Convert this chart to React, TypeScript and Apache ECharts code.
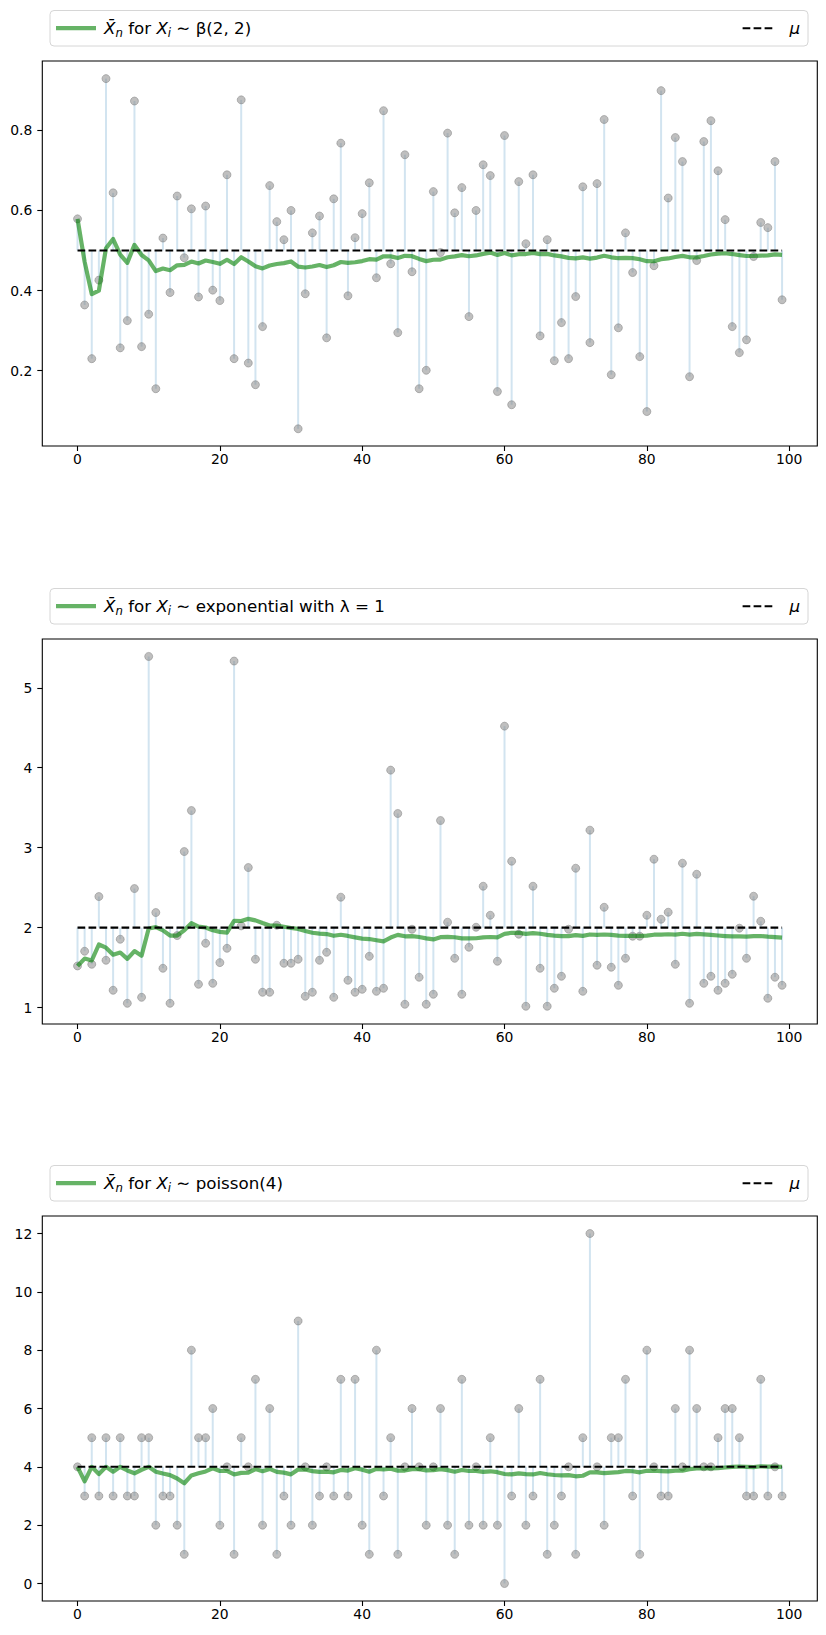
import React, { useEffect, useRef } from "react";
import * as echarts from "echarts";

// ---------- data ----------
const sampleIndex: number[] = Array.from({ length: 100 }, (_, i) => i);

const betaSamples: number[] = [
  0.579, 0.364, 0.230, 0.426, 0.929, 0.644, 0.257, 0.325, 0.873, 0.260,
  0.341, 0.155, 0.531, 0.395, 0.636, 0.482, 0.604, 0.384, 0.611, 0.401,
  0.375, 0.689, 0.230, 0.876, 0.219, 0.165, 0.310, 0.662, 0.572, 0.527,
  0.600, 0.055, 0.392, 0.544, 0.586, 0.282, 0.629, 0.768, 0.387, 0.532,
  0.592, 0.669, 0.432, 0.849, 0.467, 0.295, 0.739, 0.447, 0.155, 0.201,
  0.647, 0.495, 0.793, 0.594, 0.657, 0.335, 0.600, 0.714, 0.687, 0.148,
  0.787, 0.115, 0.672, 0.517, 0.689, 0.287, 0.527, 0.225, 0.320, 0.230,
  0.385, 0.659, 0.270, 0.667, 0.827, 0.190, 0.307, 0.544, 0.445, 0.235,
  0.098, 0.462, 0.899, 0.631, 0.782, 0.722, 0.185, 0.475, 0.772, 0.824,
  0.699, 0.577, 0.310, 0.245, 0.277, 0.485, 0.570, 0.557, 0.722, 0.377,
];

const expSamples: number[] = [
  1.521, 1.705, 1.542, 2.389, 1.592, 1.217, 1.855, 1.054, 2.489, 1.129,
  5.392, 2.189, 1.492, 1.054, 1.901, 2.952, 3.465, 1.292, 1.805, 1.304,
  1.563, 1.742, 5.334, 2.022, 2.752, 1.605, 1.192, 1.192, 2.030, 1.555,
  1.555, 1.605, 1.142, 1.192, 1.592, 1.692, 1.129, 2.381, 1.342, 1.192,
  1.229, 1.642, 1.204, 1.242, 3.970, 3.428, 1.042, 1.980, 1.380, 1.042,
  1.167, 3.340, 2.068, 1.617, 1.167, 1.755, 2.005, 2.518, 2.155, 1.580,
  4.520, 2.831, 1.918, 1.017, 2.518, 1.492, 1.017, 1.242, 1.392, 1.980,
  2.743, 1.204, 3.219, 1.530, 2.255, 1.505, 1.279, 1.617, 1.893, 1.893,
  2.155, 2.856, 2.105, 2.193, 1.542, 2.806, 1.054, 2.668, 1.304, 1.392,
  1.217, 1.304, 1.417, 1.993, 1.617, 2.393, 2.080, 1.117, 1.380, 1.279,
];

const poissonSamples: number[] = [
  4, 3, 5, 3, 5, 3, 5, 3, 3, 5,
  5, 2, 3, 3, 2, 1, 8, 5, 5, 6,
  2, 4, 1, 5, 4, 7, 2, 6, 1, 3,
  2, 9, 4, 2, 3, 4, 3, 7, 3, 7,
  2, 1, 8, 3, 5, 1, 4, 6, 4, 2,
  4, 6, 2, 1, 7, 2, 4, 2, 5, 2,
  0, 3, 6, 2, 3, 7, 1, 2, 3, 4,
  1, 5, 12, 4, 2, 5, 5, 7, 3, 1,
  8, 4, 3, 3, 6, 4, 8, 6, 4, 4,
  5, 6, 6, 5, 3, 3, 7, 3, 4, 3,
];

const betaMu = 0.5;
const expMu = 2;
const poissonMu = 4;

const xTicks: number[] = [0, 20, 40, 60, 80, 100];
const betaYTicks: number[] = [0.2, 0.4, 0.6, 0.8];
const expYTicks: number[] = [1, 2, 3, 4, 5];
const poissonYTicks: number[] = [0, 2, 4, 6, 8, 10, 12];

const distLabels: string[] = ["β(2, 2)", "exponential with λ = 1", "poisson(4)"];
const muLabel = "μ";

// ---------- helpers ----------
function runningMean(arr: number[]): number[] {
  let s = 0;
  return arr.map((v, i) => {
    s += v;
    return s / (i + 1);
  });
}

const FONT = "DejaVu Sans";
const PLOT_LEFT = 42.3;
const PLOT_WIDTH = 775;
const PLOT_HEIGHT = 385;

interface Panel {
  top: number;
  samples: number[];
  mu: number;
  yMin: number;
  yMax: number;
  yTicks: number[];
  fmt: (v: number) => string;
  label: string;
}

const panels: Panel[] = [
  { top: 61, samples: betaSamples, mu: betaMu, yMin: 0.012, yMax: 0.973, yTicks: betaYTicks, fmt: (v) => v.toFixed(1), label: distLabels[0] },
  { top: 639, samples: expSamples, mu: expMu, yMin: 0.795, yMax: 5.61, yTicks: expYTicks, fmt: (v) => String(Math.round(v)), label: distLabels[1] },
  { top: 1216, samples: poissonSamples, mu: poissonMu, yMin: -0.6, yMax: 12.6, yTicks: poissonYTicks, fmt: (v) => String(Math.round(v)), label: distLabels[2] },
];

function buildOption(): any {
  const grid: any[] = [];
  const xAxis: any[] = [];
  const yAxis: any[] = [];
  const series: any[] = [];
  const graphic: any[] = [];

  panels.forEach((p, k) => {
    grid.push({
      left: PLOT_LEFT,
      top: p.top,
      width: PLOT_WIDTH,
      height: PLOT_HEIGHT,
      show: true,
      borderColor: "#000",
      borderWidth: 1.1,
      backgroundColor: "#fff",
      containLabel: false,
    });
    xAxis.push({
      type: "value",
      gridIndex: k,
      position: "bottom",
      min: -4.95,
      max: 103.95,
      splitLine: { show: false },
      axisLine: { show: false, onZero: false },
      axisTick: { show: true, inside: false, length: 5, lineStyle: { color: "#000", width: 1.1 }, customValues: xTicks },
      axisLabel: { show: true, color: "#000", fontSize: 13.9, fontFamily: FONT, margin: 6, customValues: xTicks, formatter: (v: number) => String(Math.round(v)) },
    });
    yAxis.push({
      type: "value",
      gridIndex: k,
      position: "left",
      min: p.yMin,
      max: p.yMax,
      splitLine: { show: false },
      axisLine: { show: false, onZero: false },
      axisTick: { show: true, inside: false, length: 5, lineStyle: { color: "#000", width: 1.1 }, customValues: p.yTicks },
      axisLabel: { show: true, color: "#000", fontSize: 13.9, fontFamily: FONT, margin: 10, customValues: p.yTicks, formatter: p.fmt },
    });

    const pts = p.samples.map((v, i) => [sampleIndex[i], v]);
    const mean = runningMean(p.samples).map((v, i) => [sampleIndex[i], v]);
    const mu = p.mu;

    series.push({
      type: "custom",
      xAxisIndex: k,
      yAxisIndex: k,
      silent: true,
      z: 1,
      data: pts,
      encode: { x: 0, y: 1 },
      renderItem: (_params: any, api: any) => {
        const a = api.coord([api.value(0), mu]);
        const b = api.coord([api.value(0), api.value(1)]);
        return {
          type: "line",
          shape: { x1: a[0], y1: a[1], x2: b[0], y2: b[1] },
          style: { stroke: "rgba(31,119,180,0.2)", lineWidth: 2 },
        };
      },
    });
    series.push({
      type: "scatter",
      xAxisIndex: k,
      yAxisIndex: k,
      silent: true,
      z: 2,
      data: pts,
      symbol: "circle",
      symbolSize: 8,
      itemStyle: { color: "rgba(128,128,128,0.5)", borderColor: "rgba(128,128,128,0.5)", borderWidth: 1, opacity: 1 },
    });
    series.push({
      type: "line",
      xAxisIndex: k,
      yAxisIndex: k,
      silent: true,
      z: 3,
      data: mean,
      showSymbol: false,
      symbol: "none",
      lineStyle: { color: "rgba(0,128,0,0.6)", width: 4.2, join: "round", cap: "butt" },
    });
    series.push({
      type: "line",
      xAxisIndex: k,
      yAxisIndex: k,
      silent: true,
      z: 4,
      data: [
        [sampleIndex[0], mu],
        [sampleIndex[sampleIndex.length - 1], mu],
      ],
      showSymbol: false,
      symbol: "none",
      lineStyle: { color: "#000", width: 2.08, type: [7.7, 3.3] },
    });

    // legend (matplotlib style, expanded over the axes width)
    const ly = p.top - 32.8;
    graphic.push({
      type: "rect",
      z: 100,
      shape: { x: 50, y: p.top - 50.5, width: 758, height: 35.5, r: 4 },
      style: { fill: "rgba(255,255,255,0.8)", stroke: "#d6d6d6", lineWidth: 1 },
    });
    graphic.push({
      type: "line",
      z: 101,
      shape: { x1: 56, y1: ly, x2: 96, y2: ly },
      style: { stroke: "rgba(0,128,0,0.6)", lineWidth: 4.2 },
    });
    graphic.push({
      type: "text",
      z: 101,
      x: 104,
      y: ly,
      style: {
        text: "{it|X̄}{sub|n}{rm| for }{it|X}{sub|i}{rm| ∼ " + p.label + "}",
        align: "left",
        verticalAlign: "middle",
        fill: "#000",
        rich: {
          it: { fontFamily: FONT, fontSize: 16.7, fontStyle: "italic", lineHeight: 22, fill: "#000", color: "#000" },
          rm: { fontFamily: FONT, fontSize: 16.7, lineHeight: 22, fill: "#000", color: "#000" },
          sub: { fontFamily: FONT, fontSize: 11.7, fontStyle: "italic", lineHeight: 12, verticalAlign: "bottom", fill: "#000", color: "#000" },
        },
      },
    });
    graphic.push({
      type: "line",
      z: 101,
      shape: { x1: 742.6, y1: ly, x2: 774, y2: ly },
      style: { stroke: "#000", lineWidth: 2.08, lineDash: [7.7, 3.3] },
    });
    graphic.push({
      type: "text",
      z: 101,
      x: 789.5,
      y: ly,
      style: { text: muLabel, fontFamily: FONT, fontSize: 16.7, fontStyle: "italic", fill: "#000", align: "left", verticalAlign: "middle" },
    });
  });

  return {
    animation: false,
    backgroundColor: "#fff",
    grid,
    xAxis,
    yAxis,
    series,
    graphic,
  };
}

export default function App() {
  const ref = useRef<HTMLDivElement | null>(null);
  useEffect(() => {
    if (!ref.current) return;
    const chart = echarts.init(ref.current, null, { renderer: "svg" });
    chart.setOption(buildOption());
    return () => chart.dispose();
  }, []);
  return (
    <div
      ref={ref}
      style={{ position: "absolute", left: 0, top: 0, width: 826, height: 1635, background: "#fff" }}
    />
  );
}
